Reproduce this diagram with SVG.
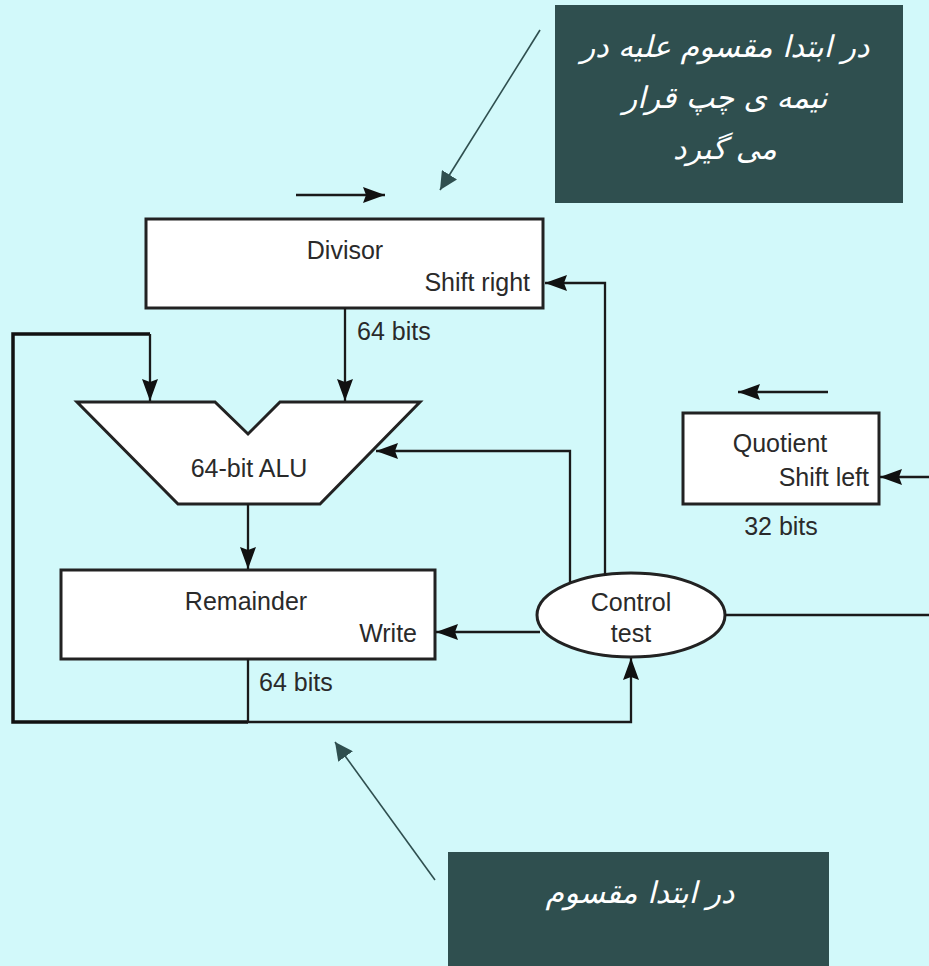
<svg xmlns="http://www.w3.org/2000/svg" width="929" height="966" viewBox="0 0 929 966">
  <defs>
    <marker id="ah" viewBox="0 0 22 16" refX="22" refY="8" markerWidth="22" markerHeight="16" markerUnits="userSpaceOnUse" orient="auto">
      <path d="M0,0 L22,8 L0,16 L3,8 z" fill="#111"/>
    </marker>
    <marker id="ahNote" viewBox="0 0 10 10" refX="10" refY="5" markerWidth="18" markerHeight="18" markerUnits="userSpaceOnUse" orient="auto">
      <path d="M0,0 L10,5 L0,10 z" fill="#2f4f4f"/>
    </marker>
  </defs>
  <style>
    .box { fill: #ffffff; stroke: #222; stroke-width: 3; }
    .lbl { font-family: "Liberation Sans", Arial, sans-serif; font-size: 25px; fill: #2a2a2a; }
    .mid { text-anchor: middle; }
    .end { text-anchor: end; }
    .wire { fill: none; stroke: #1a1a1a; stroke-width: 2.3; }
    .bus { fill: none; stroke: #111; stroke-width: 3.5; }
    .note { fill: #2f4f4f; }
    .noteTxt { font-family: "DejaVu Sans", "Noto Sans", sans-serif; font-size: 30px; fill: #ffffff; text-anchor: middle; font-style: italic; }
    .pointer { stroke: #2f4f4f; stroke-width: 1.6; fill: none; }
  </style>

  <rect width="929" height="966" fill="#d2f9fa"/>

  <!-- annotation notes -->
  <g id="note-top">
    <rect class="note" x="555" y="5" width="348" height="198"/>
    <text class="noteTxt" x="725" y="57" direction="rtl">در ابتدا مقسوم علیه در</text>
    <text class="noteTxt" x="725" y="108" direction="rtl">نیمه ی چپ قرار</text>
    <text class="noteTxt" x="725" y="159" direction="rtl">می گیرد</text>
  </g>
  <g id="note-bottom">
    <rect class="note" x="448" y="852" width="381" height="120"/>
    <text class="noteTxt" x="640" y="903" direction="rtl">در ابتدا مقسوم</text>
  </g>

  <!-- nodes -->
  <g id="divisor">
    <rect class="box" x="146" y="219" width="397" height="89"/>
    <text class="lbl mid" x="345" y="259">Divisor</text>
    <text class="lbl end" x="530" y="291">Shift right</text>
  </g>
  <g id="alu">
    <path class="box" d="M77,402 L215,402 L248,434 L280,402 L420,402 L320,504 L178,504 Z"/>
    <text class="lbl mid" x="249" y="477">64-bit ALU</text>
  </g>
  <g id="remainder">
    <rect class="box" x="61" y="570" width="374" height="89"/>
    <text class="lbl mid" x="246" y="610">Remainder</text>
    <text class="lbl end" x="417" y="642">Write</text>
  </g>
  <g id="quotient">
    <rect class="box" x="683" y="413" width="196" height="91"/>
    <text class="lbl mid" x="780" y="452">Quotient</text>
    <text class="lbl end" x="869" y="486">Shift left</text>
  </g>
  <g id="control">
    <ellipse class="box" cx="631" cy="615" rx="94" ry="42"/>
    <text class="lbl mid" x="631" y="611">Control</text>
    <text class="lbl mid" x="631" y="642">test</text>
  </g>

  <!-- bus width labels -->
  <g id="labels">
    <text class="lbl" x="357" y="340">64 bits</text>
    <text class="lbl" x="259" y="691">64 bits</text>
    <text class="lbl mid" x="781" y="535">32 bits</text>
  </g>

  <!-- connectors -->
  <g id="connectors">
    <!-- shift direction hints -->
    <path class="wire" d="M296,195 L385,195" marker-end="url(#ah)"/>
    <path class="wire" d="M828,392 L738,392" marker-end="url(#ah)"/>
    <!-- divisor to ALU -->
    <path class="wire" d="M345,308 L345,401" marker-end="url(#ah)"/>
    <!-- remainder feedback loop to ALU -->
    <path class="bus" d="M248,722 L13,722 L13,334 L150,334"/>
    <path class="wire" d="M150,334 L150,401" marker-end="url(#ah)"/>
    <!-- ALU to remainder -->
    <path class="wire" d="M248,504 L248,569" marker-end="url(#ah)"/>
    <!-- remainder to control test -->
    <path class="wire" d="M248,659 L248,722 L631,722 L631,658" marker-end="url(#ah)"/>
    <!-- control outputs -->
    <path class="wire" d="M540,632 L436,632" marker-end="url(#ah)"/>
    <path class="wire" d="M570,582 L570,451 L376,451" marker-end="url(#ah)"/>
    <path class="wire" d="M605,576 L605,283 L545,283" marker-end="url(#ah)"/>
    <path class="wire" d="M725,615 L929,615"/>
    <path class="wire" d="M929,477 L880,477" marker-end="url(#ah)"/>
    <!-- annotation pointers -->
    <path class="pointer" d="M540,30 L440,190" marker-end="url(#ahNote)"/>
    <path class="pointer" d="M435,880 L335,742" marker-end="url(#ahNote)"/>
  </g>
</svg>
